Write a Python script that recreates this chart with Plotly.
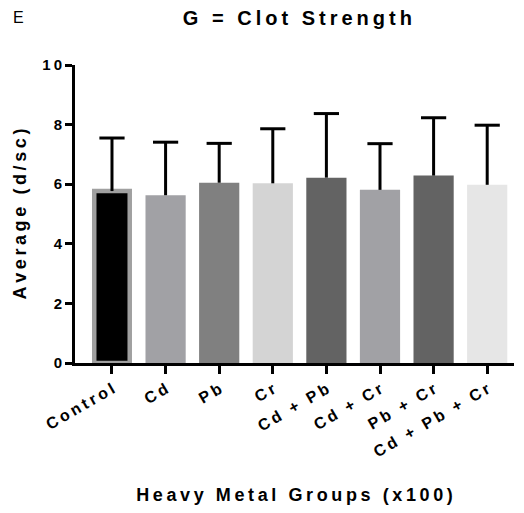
import plotly.graph_objects as go

# Clot strength (G) per heavy-metal exposure group, mean and SD
groups = ["Control", "Cd", "Pb", "Cr", "Cd + Pb", "Cd + Cr", "Pb + Cr", "Cd + Pb + Cr"]
mean_g = [5.77, 5.63, 6.05, 6.03, 6.22, 5.81, 6.29, 5.98]
sd_g = [1.78, 1.78, 1.32, 1.83, 2.15, 1.55, 1.94, 2.00]
y_ticks = [0, 2, 4, 6, 8, 10]

fill_colors = ["#000000", "#a1a1a5", "#808080", "#d4d4d4",
               "#636363", "#a1a1a5", "#636363", "#e6e6e6"]
edge_colors = ["#a0a0a0"] + fill_colors[1:]
edge_widths = [4.5, 0, 0, 0, 0, 0, 0, 0]
bar_widths = [0.662, 0.75, 0.75, 0.75, 0.75, 0.75, 0.75, 0.75]

FONT = "Liberation Sans, Arial, sans-serif"
GAP = "\u2009"  # thin space used for letter tracking


def tracked(s):
    return GAP.join(s)


fig = go.Figure()

fig.add_trace(go.Bar(
    x=groups, y=mean_g, width=bar_widths,
    marker=dict(color=fill_colors, line=dict(color=edge_colors, width=edge_widths)),
    showlegend=False, hoverinfo="skip",
))

# upper-only SD whiskers: stem from the bar top plus a cap at mean + SD
stem_x, stem_y = [], []
for g, m, s in zip(groups, mean_g, sd_g):
    stem_x += [g, g, None]
    stem_y += [m, m + s, None]
fig.add_trace(go.Scatter(
    x=stem_x, y=stem_y, mode="lines",
    line=dict(color="black", width=3), showlegend=False, hoverinfo="skip",
))
fig.add_trace(go.Scatter(
    x=groups, y=[m + s for m, s in zip(mean_g, sd_g)], mode="markers",
    marker=dict(symbol="line-ew", size=18, line=dict(color="black", width=3)),
    showlegend=False, hoverinfo="skip",
))

fig.update_layout(
    width=524, height=513,
    margin=dict(l=75, r=10, t=65, b=150),
    paper_bgcolor="white", plot_bgcolor="white",
    font=dict(family=FONT, color="black"),
    title=dict(
        text=tracked("G = Clot Strength"),
        font=dict(size=20, weight="bold", family=FONT),
        x=0.5675, xanchor="center", y=0.965, yanchor="middle",
    ),
    bargap=0.25,
    annotations=[dict(
        text="E", xref="paper", yref="paper", x=-0.145, y=1.158,
        xanchor="left", yanchor="middle", showarrow=False,
        font=dict(size=16, family=FONT),
    )],
)

fig.update_xaxes(
    type="category", categoryorder="array", categoryarray=groups,
    range=[-0.69, 7.5],
    tickmode="array", tickvals=groups, ticktext=[tracked(g) for g in groups],
    tickangle=-30, tickfont=dict(size=16, weight="bold", family=FONT),
    ticks="outside", ticklen=8, tickwidth=3, tickcolor="black",
    showline=True, linecolor="black", linewidth=3,
    showgrid=False, zeroline=False,
    title=dict(text=tracked("Heavy Metal Groups (x100)"),
               font=dict(size=18, weight="bold", family=FONT), standoff=30),
)
fig.update_yaxes(
    range=[0, 10], tickvals=y_ticks, ticktext=[tracked(str(v)) for v in y_ticks],
    tickfont=dict(size=15, weight="bold", family=FONT),
    ticks="outside", ticklen=7, tickwidth=3, tickcolor="black",
    showline=True, linecolor="black", linewidth=3,
    showgrid=False, zeroline=False,
    title=dict(text=tracked("Average (d/sc)"),
               font=dict(size=18, weight="bold", family=FONT), standoff=12),
)

fig.write_html("out.html")
